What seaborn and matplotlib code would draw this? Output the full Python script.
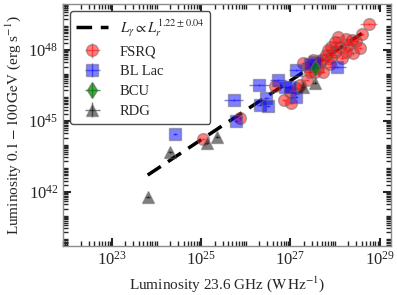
import numpy as np
import matplotlib
matplotlib.use("Agg")
import matplotlib.pyplot as plt
from matplotlib.ticker import FixedLocator, LogLocator, NullFormatter, LogFormatterMathtext
import seaborn as sns

# values, log10 units
fsrq_lx = [28.76, 28.60, 28.07, 28.25, 28.37, 28.48, 27.92, 28.10, 28.29, 28.40,
           28.24, 27.99, 27.84, 27.79, 27.92, 27.73, 27.66, 27.51, 27.28, 27.39,
           27.62, 27.73, 27.54, 27.36, 27.21, 27.15, 27.02, 26.65, 25.87, 25.04,
           27.99, 28.15, 28.55, 27.43, 27.88, 26.98, 26.85]
fsrq_ly = [49.10, 48.66, 48.56, 48.45, 48.42, 48.39, 48.14, 48.14, 48.21, 47.86,
           47.93, 47.93, 48.00, 47.79, 47.69, 47.61, 47.51, 47.58, 47.46, 47.29,
           47.23, 47.08, 47.08, 46.73, 46.52, 46.38, 45.75, 46.48, 45.11, 44.23,
           48.34, 47.66, 48.08, 47.07, 47.41, 46.23, 45.89]
fsrq_xe = [0.19, 0.05, 0.05, 0.05, 0.05, 0.05, 0.05, 0.05, 0.05, 0.05,
           0.05, 0.05, 0.05, 0.22, 0.05, 0.05, 0.05, 0.05, 0.05, 0.05,
           0.05, 0.05, 0.05, 0.05, 0.05, 0.05, 0.05, 0.05, 0.05, 0.05,
           0.05, 0.05, 0.05, 0.05, 0.05, 0.05, 0.05]

bll_lx = [28.04, 27.13, 26.72, 26.30, 26.87, 26.98, 27.13, 25.73, 26.46, 26.31,
          26.50, 25.78, 24.41, 27.54, 27.43]
bll_ly = [47.29, 47.15, 46.73, 46.52, 46.45, 46.42, 46.03, 45.89, 45.96, 45.68,
          45.63, 45.01, 44.44, 47.51, 47.41]
bll_xe = [0.20, 0.17, 0.17, 0.22, 0.05, 0.05, 0.05, 0.21, 0.05, 0.05,
          0.05, 0.05, 0.05, 0.05, 0.05]

bcu_lx = [27.54]
bcu_ly = [47.23]
bcu_xe = [0.05]

rdg_lx = [23.80, 24.31, 25.12, 25.36, 27.54, 27.28]
rdg_ly = [41.80, 43.70, 44.08, 44.34, 46.62, 46.42]
rdg_xe = [0.05, 0.05, 0.05, 0.05, 0.05, 0.05]

fit_x = [6.3e23, 4.0e28]
fit_y = [5.2e42, 5.0e48]

sns.set_style("ticks")
plt.rcParams['font.family'] = ['Liberation Serif', 'DejaVu Serif']
plt.rcParams['mathtext.fontset'] = 'stix'

fig = plt.figure(figsize=(3.97, 2.95), dpi=100)
ax = fig.add_axes([0.159, 0.166, 0.826, 0.820])

sns.lineplot(x=fit_x, y=fit_y, ax=ax, color='k', lw=2.5, linestyle=(0, (4.5, 2.5)),
             label=r'$L_\gamma \propto L_r^{1.22\pm0.04}$')


def draw(lx, ly, xe, fmt, col, name, alpha=0.5):
    x = 10 ** np.array(lx)
    y = 10 ** np.array(ly)
    e = np.array(xe)
    xerr = [x - x * 10 ** -e, x * 10 ** e - x]
    yerr = [y - y * 10 ** -0.05, y * 10 ** 0.05 - y]
    ax.errorbar(x, y, xerr=xerr, yerr=yerr, fmt=fmt, color=col, ecolor=col,
                mec='0.4', ms=8.5, alpha=alpha, elinewidth=1, label=name)


draw(fsrq_lx, fsrq_ly, fsrq_xe, 'o', 'red', 'FSRQ')
draw(bll_lx, bll_ly, bll_xe, 's', 'blue', 'BL Lac')
draw(bcu_lx, bcu_ly, bcu_xe, 'd', 'green', 'BCU', alpha=0.7)
draw(rdg_lx, rdg_ly, rdg_xe, '^', 'k', 'RDG')

ax.set_xscale('log')
ax.set_yscale('log')
ax.set_xlim(8e21, 1.8e29)
ax.set_ylim(5.2e39, 8.7e49)

ax.xaxis.set_major_locator(FixedLocator([1e23, 1e25, 1e27, 1e29]))
ax.yaxis.set_major_locator(FixedLocator([1e42, 1e45, 1e48]))
ax.xaxis.set_major_formatter(LogFormatterMathtext())
ax.yaxis.set_major_formatter(LogFormatterMathtext())
ax.xaxis.set_minor_locator(LogLocator(base=10, subs=np.arange(1, 10), numticks=200))
ax.yaxis.set_minor_locator(LogLocator(base=10, subs=np.arange(1, 10), numticks=200))
ax.xaxis.set_minor_formatter(NullFormatter())
ax.yaxis.set_minor_formatter(NullFormatter())

ax.tick_params(which='both', direction='in', top=True, right=True, labelsize=12)
ax.tick_params(which='major', length=6, width=1.5)
ax.tick_params(which='minor', length=3.5, width=1)
for s in ax.spines.values():
    s.set_color('0.55')
    s.set_linewidth(1)

ax.set_xlabel(r'Luminosity 23.6 GHz ($\mathrm{W\,Hz^{-1}}$)', fontsize=11)
ax.set_ylabel(r'Luminosity $0.1-100\,\mathrm{GeV}$ (erg s$^{-1}$)', fontsize=11)

leg = ax.legend(loc='upper left', fontsize=10.5, frameon=True, fancybox=True,
                handlelength=2.2, borderpad=0.4, labelspacing=0.45)
leg.get_frame().set_edgecolor('0.3')
leg.get_frame().set_alpha(1)

fig.savefig('out.png', dpi=100)
